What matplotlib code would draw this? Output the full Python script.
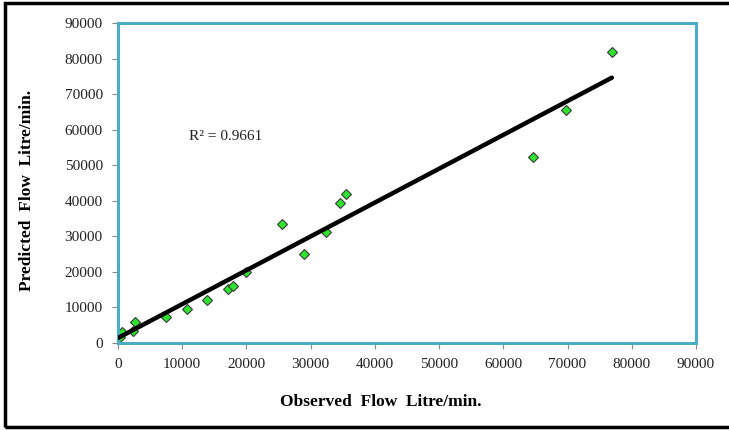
import numpy as np
import matplotlib
matplotlib.use('Agg')
import matplotlib.pyplot as plt
from matplotlib.patches import Rectangle

# observed vs predicted flow (Litre/min.)
observed = [50, 300, 700, 2400, 2700, 7400, 10800, 13900, 17200, 17900,
            20000, 25500, 29000, 32400, 34600, 35500, 64600, 69700, 76900]
predicted = [1300, 1600, 3200, 3500, 6000, 7400, 9700, 12100, 15100, 16100,
             20000, 33600, 24900, 31300, 39300, 41800, 52200, 65400, 81900]
r2_label = 'R² = 0.9661'
ticks = [0, 10000, 20000, 30000, 40000, 50000, 60000, 70000, 80000, 90000]

plt.rcParams['font.family'] = ['Liberation Serif', 'DejaVu Serif']

fig = plt.figure(figsize=(7.29, 4.30), dpi=100)
ax = fig.add_axes([118/729, 1 - 343/430, 578/729, 320/430])

# linear trend line over the observed range
x = np.array(observed, dtype=float)
y = np.array(predicted, dtype=float)
slope, icpt = np.polyfit(x, y, 1)
xs = np.array([x.min(), x.max()])
ax.plot(xs, slope * xs + icpt, color='black', lw=3.2, solid_capstyle='round', zorder=3)

ax.plot(x, y, 'D', ms=5.6, mfc='#2ee52e', mec='#3a3a3a', mew=0.8, zorder=2)

ax.set_xlim(0, 90000)
ax.set_ylim(0, 90000)
ax.set_xticks(ticks)
ax.set_yticks(ticks)
for s in ax.spines.values():
    s.set_color('#4bacc6')
    s.set_linewidth(2.2)
ax.tick_params(direction='out', length=4.5, color='#888888', labelsize=11,
               labelcolor='#222222', pad=6.5)

ax.text(226/729, 1 - 137/430, r2_label, transform=fig.transFigure,
        ha='center', va='center', fontsize=11, color='#222222')

fig.text(381/729, 1 - 402/430, 'Observed  Flow  Litre/min.', ha='center', va='center',
         fontsize=12.5, fontweight='bold')
fig.text(27/729, 1 - 190/430, 'Predicted  Flow  Litre/min.', ha='center', va='center',
         rotation=90, fontsize=12.5, fontweight='bold')

# outer chart border
fig.patches.append(Rectangle((5/729, 3/430), 1.2, 424/430, transform=fig.transFigure,
                             fill=False, ec='black', lw=2.5))

fig.savefig('out.png', dpi=100)
